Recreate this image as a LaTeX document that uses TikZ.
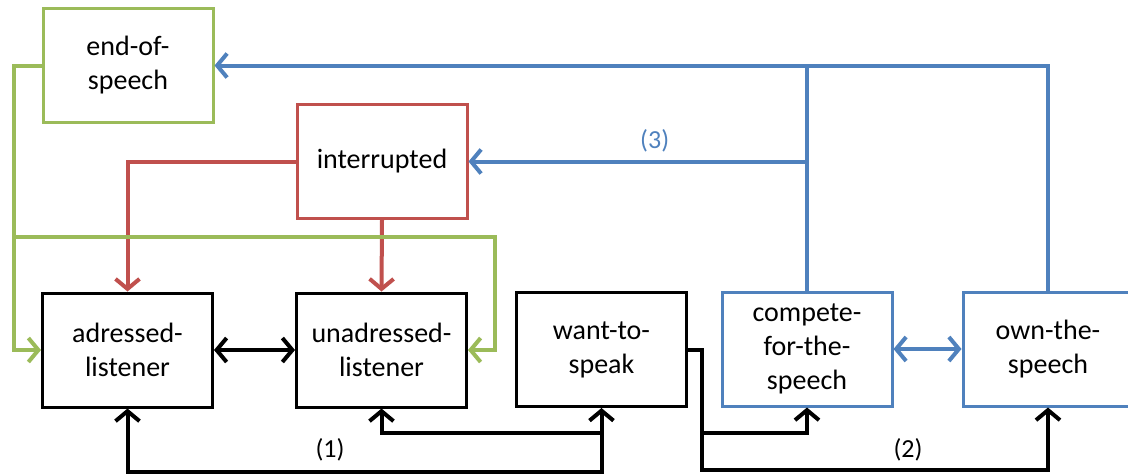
\documentclass[tikz,border=0pt]{standalone}
\usepackage{fontspec}
\setmainfont{Carlito}
\usetikzlibrary{arrows.meta}
\definecolor{cgreen}{HTML}{9BBB59}
\definecolor{cred}{HTML}{C0504D}
\definecolor{cblue}{HTML}{4F81BD}
\begin{document}
\begin{tikzpicture}[x=1pt,y=-1pt,
  box/.style={draw,line width=3pt,minimum width=170pt,minimum height=114pt,inner sep=0pt,align=center,font=\fontsize{28}{34}\selectfont},
  conn/.style={line width=4pt,arrows={-Straight Barb[length=10pt,width=24pt]}},
  biarrow/.style={line width=4pt,arrows={Straight Barb[length=10pt,width=24pt]-Straight Barb[length=10pt,width=24pt]}},
  plain/.style={line width=4pt},
  lbl/.style={font=\fontsize{26}{30}\selectfont,inner sep=0pt}]
\useasboundingbox (0,0) rectangle (1128,475);
\clip (0,0) rectangle (1128,475);
% nodes
\node[box,draw=cgreen] (eos) at (128,65.5) {end-of-\\speech};
\node[box,draw=cred] (int) at (382,161.5) {interrupted};
\node[box,draw=black] (adr) at (127.5,350) {adressed-\\listener};
\node[box,draw=black] (unadr) at (381.5,350) {unadressed-\\listener};
\node[box,draw=black] (want) at (601.5,349.5) {want-to-\\speak};
\node[box,draw=cblue] (comp) at (807,349) {compete-\\for-the-\\speech};
\node[box,draw=cblue] (own) at (1048,349) {own-the-\\speech};
% coordinates
\coordinate (gl) at (15,237);
\coordinate (gr) at (495,237);
\coordinate (k1) at (702,433);
\coordinate (k2) at (702,470);
% blue
\draw[conn,cblue] (own.north) |- (eos.east);
\draw[plain,cblue] (comp.north) -- (comp.north |- eos.east);
\draw[conn,cblue] (comp.north |- int.east) -- node[lbl,pos=0.45,above=7pt,text=cblue] (l3) {(3)} (int.east);
\draw[biarrow,cblue] (comp.east) -- (own.west);
% red
\draw[conn,cred] (int.west) -| (adr.north);
\draw[conn,cred] (int.south) -- (unadr.north);
% green
\draw[conn,cgreen] (eos.west) -- ++(-28,0) |- (adr.west);
\draw[conn,cgreen] (gl) -- (gr) |- (unadr.east);
% black
\draw[biarrow] (adr.east) -- (unadr.west);
\draw[biarrow] (adr.south) -- ++(0,63) -| (want.south);
\draw[conn] (want.south |- k1) -| (unadr.south);
\draw[conn] (want.east) -| (k2) -| (own.south);
\draw[conn] (k1) -| (comp.south);
\node[lbl] (l1) at (330,450) {(1)};
\node[lbl] (l2) at (908,450) {(2)};
\end{tikzpicture}
\end{document}
